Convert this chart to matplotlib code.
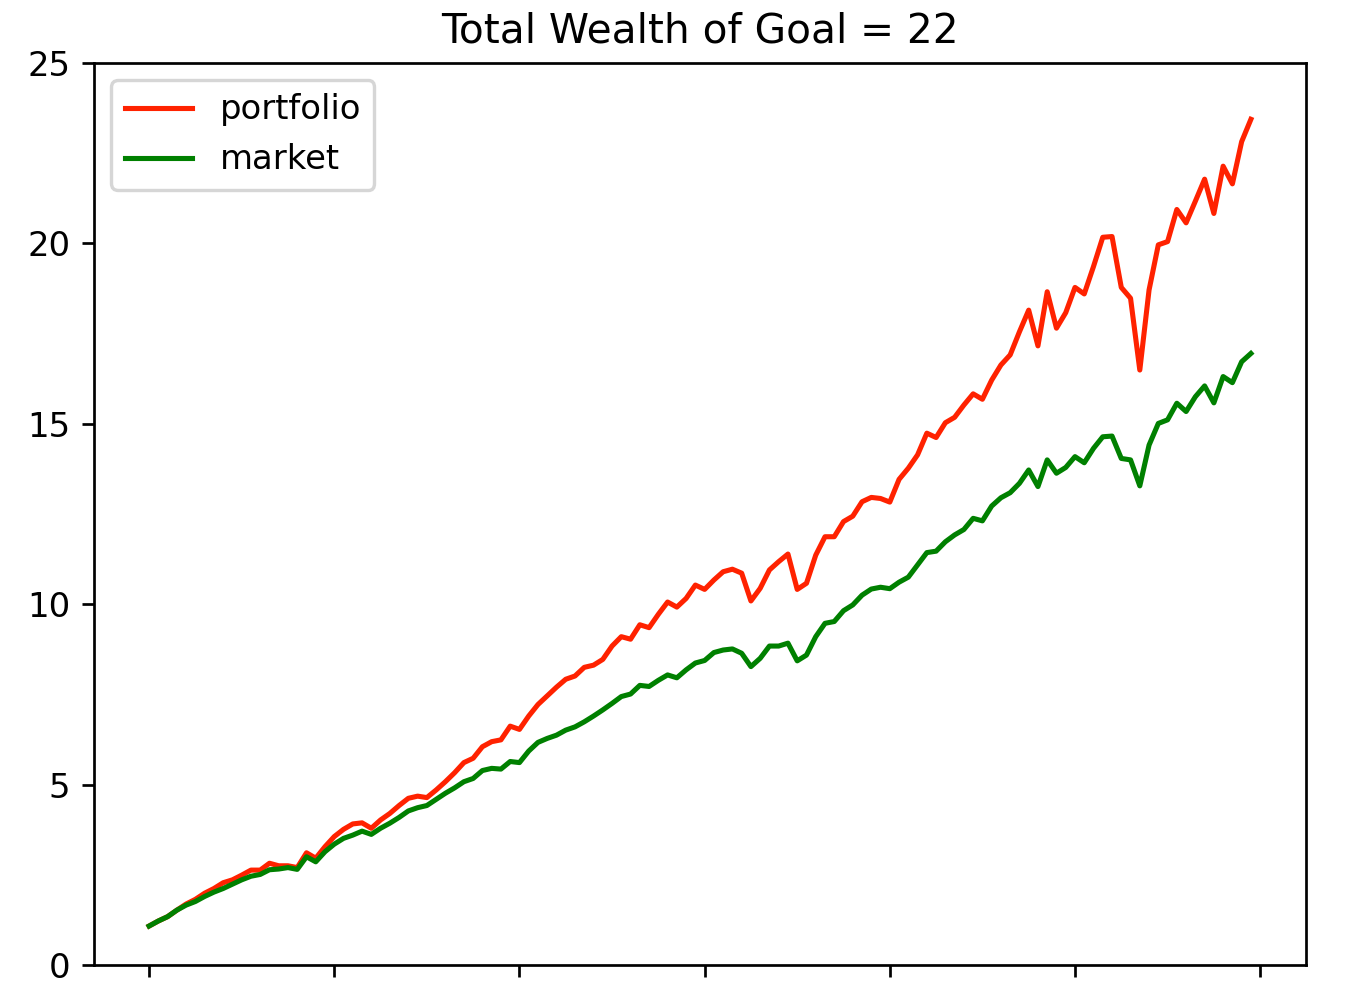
import numpy as np
import matplotlib
matplotlib.use('Agg')
import matplotlib.pyplot as plt

portfolio = [1.08, 1.22, 1.34, 1.52, 1.69, 1.82, 1.99, 2.12, 2.28, 2.36,
             2.49, 2.63, 2.63, 2.82, 2.75, 2.75, 2.70, 3.11, 2.96, 3.28,
             3.56, 3.76, 3.91, 3.94, 3.79, 4.02, 4.20, 4.42, 4.62, 4.68,
             4.64, 4.85, 5.08, 5.33, 5.61, 5.73, 6.05, 6.19, 6.24, 6.62,
             6.53, 6.90, 7.22, 7.46, 7.70, 7.92, 8.01, 8.25, 8.31, 8.47,
             8.84, 9.10, 9.03, 9.43, 9.35, 9.72, 10.06, 9.92, 10.16, 10.53,
             10.41, 10.67, 10.90, 10.97, 10.86, 10.09, 10.44, 10.95, 11.18, 11.39,
             10.41, 10.58, 11.36, 11.87, 11.87, 12.29, 12.44, 12.84, 12.96, 12.93,
             12.83, 13.46, 13.77, 14.14, 14.74, 14.62, 15.03, 15.18, 15.52, 15.83,
             15.68, 16.21, 16.63, 16.91, 17.55, 18.15, 17.16, 18.66, 17.65, 18.08,
             18.78, 18.60, 19.36, 20.17, 20.19, 18.78, 18.48, 16.49, 18.71, 19.96,
             20.05, 20.94, 20.57, 21.17, 21.78, 20.83, 22.14, 21.65, 22.82, 23.44]

market = [1.08, 1.22, 1.34, 1.52, 1.66, 1.76, 1.90, 2.02, 2.12, 2.24,
          2.36, 2.46, 2.51, 2.64, 2.66, 2.70, 2.65, 3.00, 2.86, 3.14,
          3.35, 3.51, 3.60, 3.71, 3.62, 3.79, 3.93, 4.09, 4.27, 4.36,
          4.42, 4.59, 4.76, 4.91, 5.08, 5.17, 5.39, 5.45, 5.43, 5.64,
          5.61, 5.93, 6.17, 6.28, 6.37, 6.51, 6.60, 6.74, 6.90, 7.07,
          7.25, 7.44, 7.51, 7.75, 7.72, 7.89, 8.04, 7.96, 8.18, 8.37,
          8.44, 8.66, 8.73, 8.76, 8.64, 8.27, 8.50, 8.84, 8.84, 8.92,
          8.43, 8.59, 9.10, 9.47, 9.52, 9.82, 9.98, 10.25, 10.42, 10.47,
          10.43, 10.61, 10.75, 11.09, 11.43, 11.47, 11.73, 11.92, 12.07, 12.38,
          12.31, 12.72, 12.95, 13.09, 13.35, 13.72, 13.26, 14.00, 13.63, 13.79,
          14.09, 13.92, 14.32, 14.64, 14.66, 14.04, 14.00, 13.28, 14.41, 15.01,
          15.11, 15.57, 15.34, 15.75, 16.05, 15.58, 16.31, 16.14, 16.72, 16.95]

goal = 22
x = np.arange(len(portfolio))

dpi = 244
fig = plt.figure(figsize=(1354 / dpi, 990 / dpi), dpi=dpi)
ax = fig.add_axes([94 / 1354, 25 / 990, 1212 / 1354, 902 / 990])

ax.plot(x, portfolio, color='#ff2200', label='portfolio')
ax.plot(x, market, color='green', label='market')

ax.set_ylim(0, 25)
ax.set_xticks(np.arange(0, 121, 20))
ax.set_xticklabels([])
ax.set_title('Total Wealth of Goal = %d' % goal)
ax.legend(loc='upper left')

fig.savefig('out.png', dpi=dpi)
